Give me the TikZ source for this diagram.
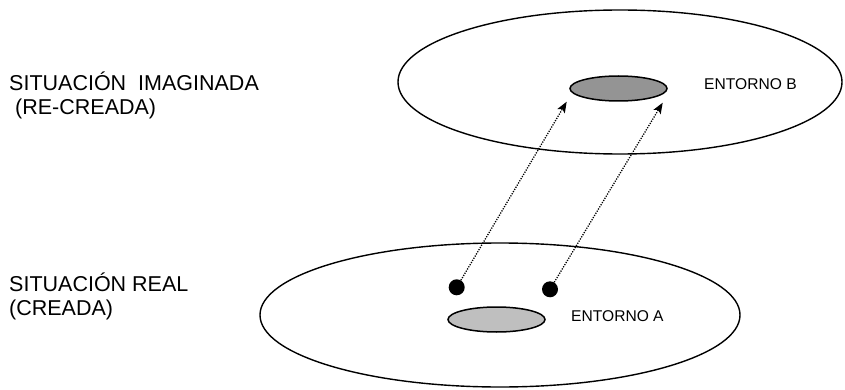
\documentclass[tikz,border=0pt]{standalone}
\usepackage{fontspec}
\setmainfont{Liberation Sans}
\usetikzlibrary{shapes.geometric,arrows.meta}
\begin{document}
\begin{tikzpicture}[x=1pt,y=-1pt,
  ring/.style={draw=black,line width=1.4pt,ellipse,inner sep=0pt},
  spot/.style={draw=black,line width=1.5pt,ellipse,inner sep=0pt,minimum width=97pt,minimum height=25pt},
  dotnode/.style={circle,fill=black,inner sep=0pt,minimum size=16pt},
  link/.style={line width=1.3pt,dash pattern=on 1.2pt off 1.3pt,-{Stealth[length=11pt,width=8.5pt,inset=2.5pt]}},
  biglabel/.style={anchor=base west,inner sep=0pt,font=\fontsize{21.5}{23.6}\selectfont},
  smalllabel/.style={anchor=base west,inner sep=0pt,font=\fontsize{15.6}{18}\selectfont}]
\useasboundingbox (0,0) rectangle (845,390);
% top situation
\node[ring,minimum width=444pt,minimum height=144pt] (top) at (620,82) {};
\node[spot,fill=black!42] (spotB) at (618.5,88.5) {};
\node[smalllabel] (entB) at (704,89.3) {ENTORNO B};
% bottom situation
\node[ring,minimum width=480pt,minimum height=144pt] (bot) at (500,315) {};
\node[spot,fill=black!25] (spotA) at (496.5,319.5) {};
\node[smalllabel] (entA) at (571,321.7) {ENTORNO A};
% dots
\node[dotnode] (d1) at (456.7,287.3) {};
\node[dotnode] (d2) at (550,289.3) {};
\coordinate (t1) at (566.7,101.7);
\coordinate (t2) at (662.7,102.7);
\draw[link] (d1) -- (t1);
\draw[link] (d2) -- (t2);
% left labels
\node[biglabel] (l1a) at (9,90.7) {SITUACIÓN\ \ IMAGINADA};
\node[biglabel] (l1b) at (9,114.3) {\hspace*{0.28em}(RE-CREADA)};
\node[biglabel] (l2a) at (9,291.7) {SITUACIÓN REAL};
\node[biglabel] (l2b) at (9,315.3) {(CREADA)};
\end{tikzpicture}
\end{document}
